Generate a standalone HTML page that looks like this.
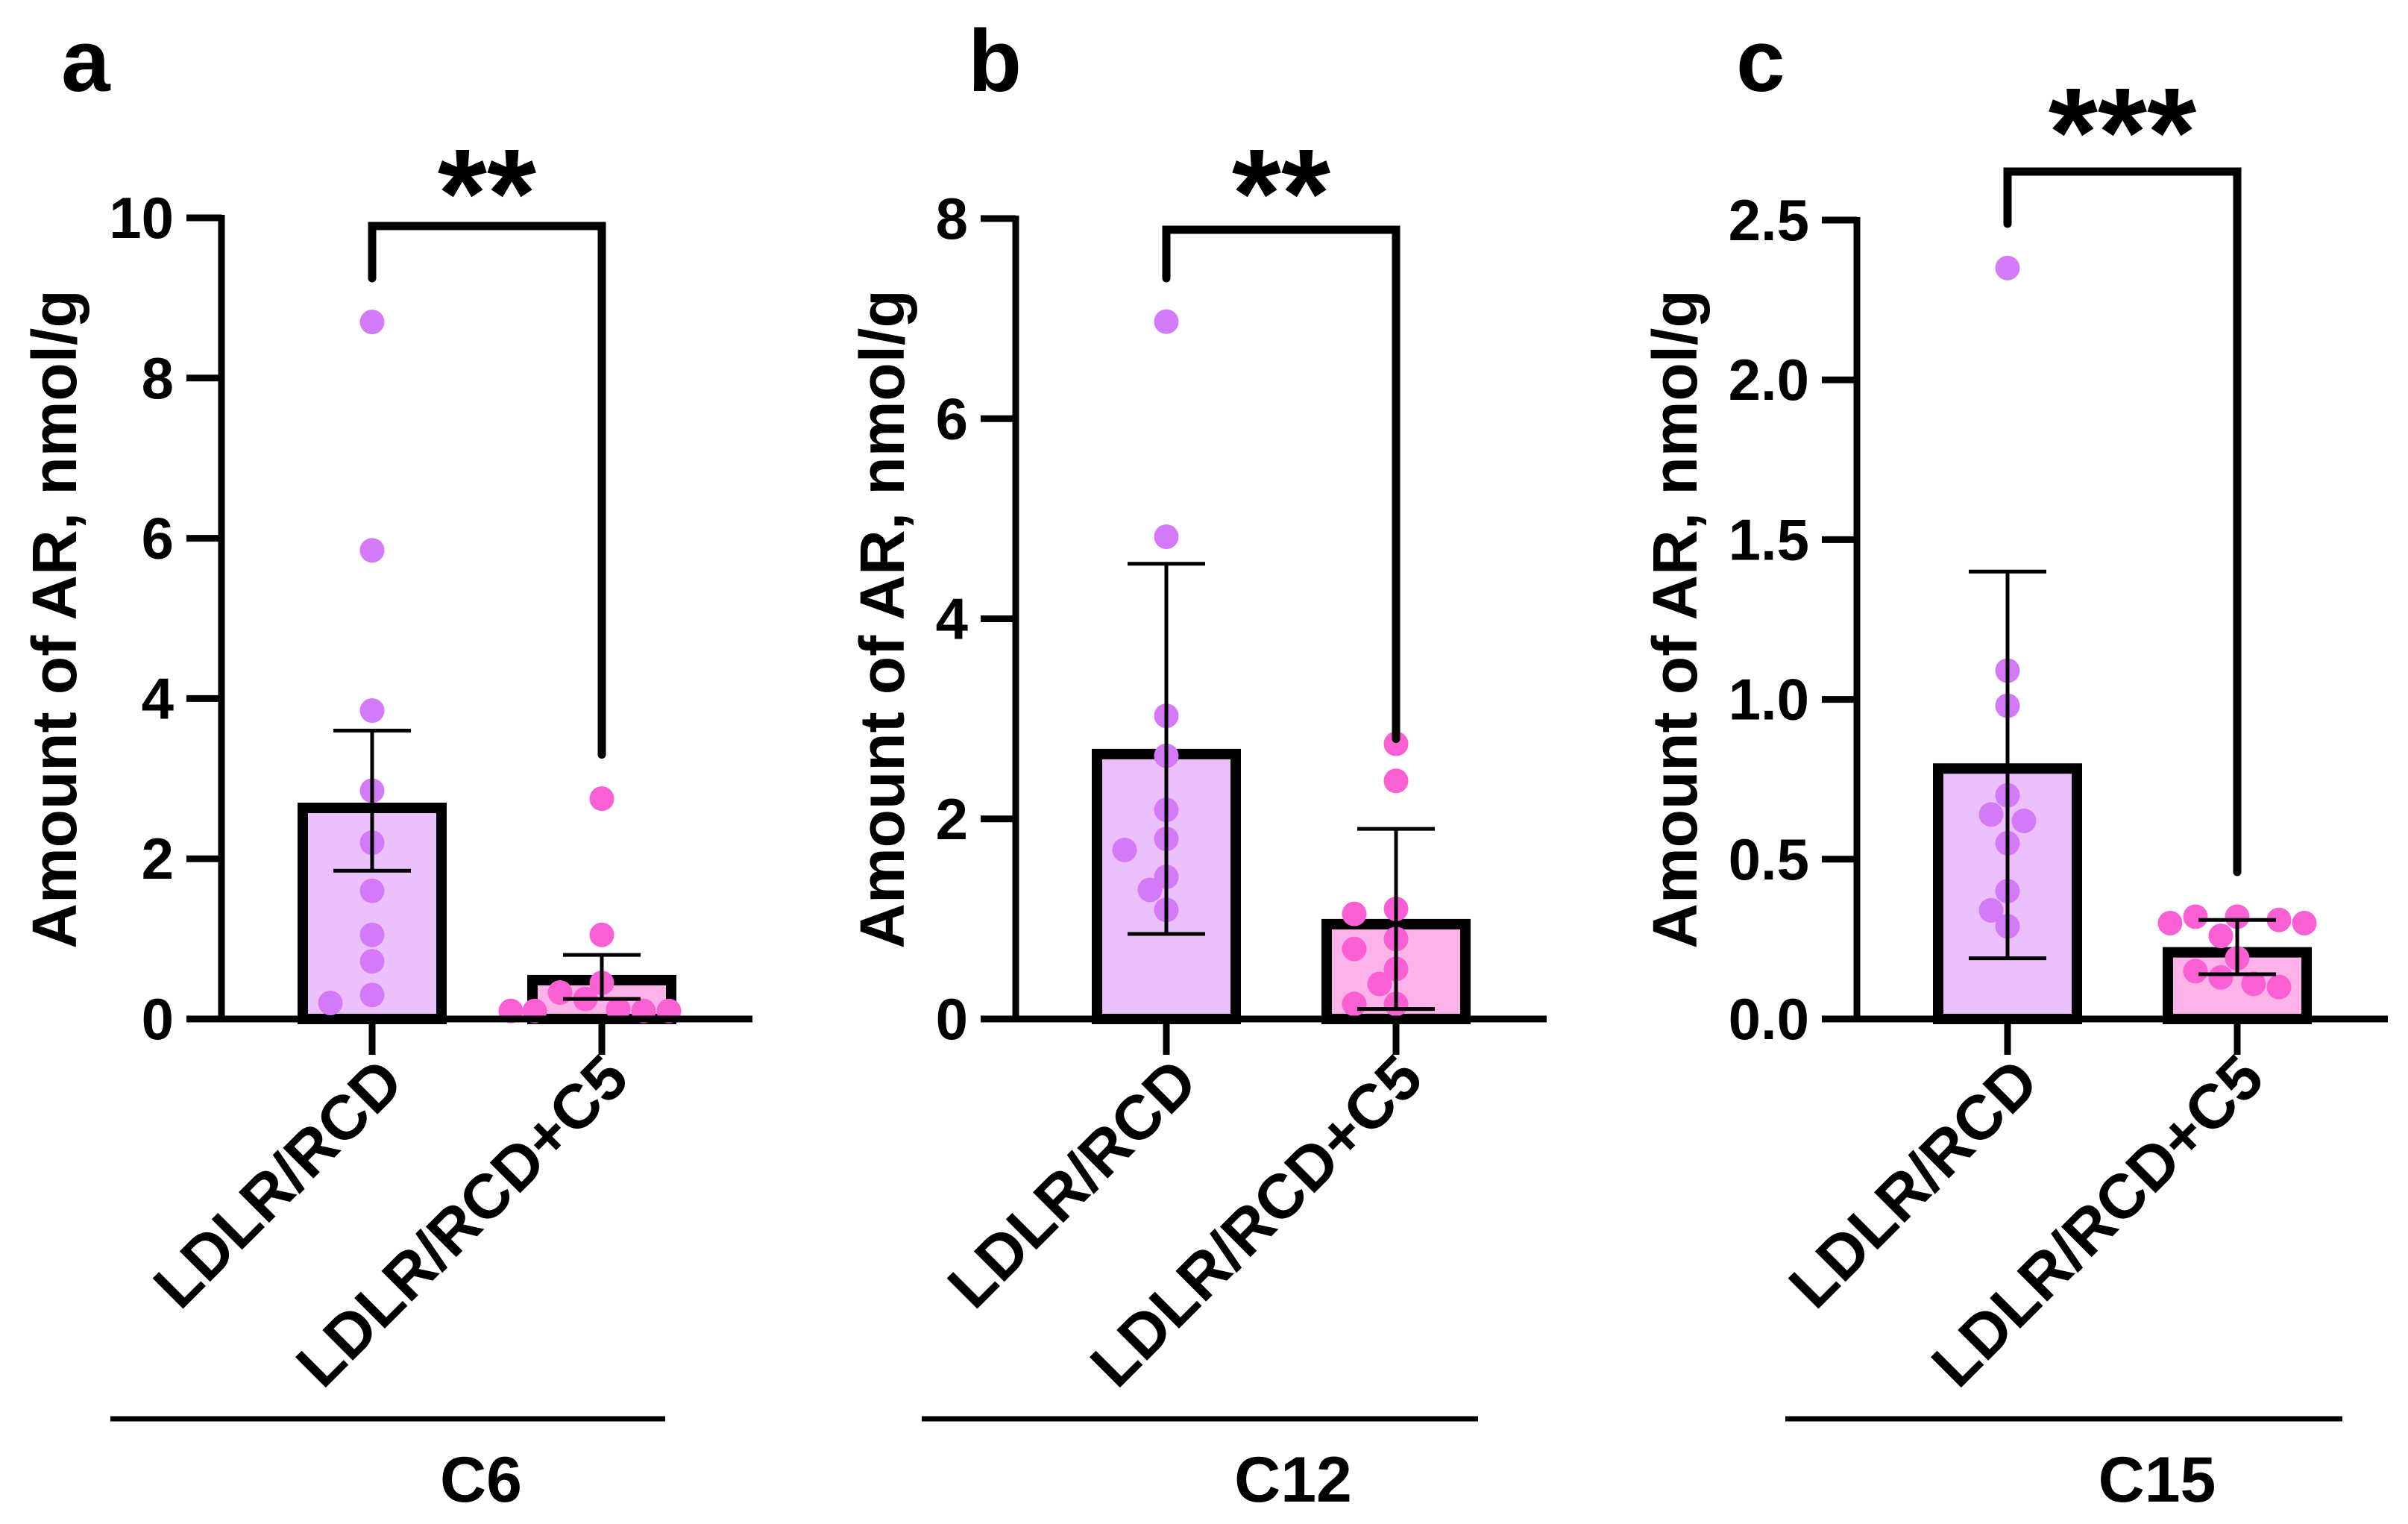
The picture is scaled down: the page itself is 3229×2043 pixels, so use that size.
<!DOCTYPE html>
<html><head><meta charset="utf-8"><style>
html,body{margin:0;padding:0;background:#fff}
svg{display:block}
text{font-family:"Liberation Sans",Arial,sans-serif;font-weight:bold;fill:#000}
</style></head><body>
<svg id="chart" width="3229" height="2043" viewBox="0 0 3229 2043" xmlns="http://www.w3.org/2000/svg"></svg>
<script>
// ---- data ----
const categories = ["LDLR/RCD", "LDLR/RCD+C5"];
const panelLetters = ["a", "b", "c"];
const compounds = ["C6", "C12", "C15"];
const sigLabels = ["**", "**", "***"];
const yMaxes = [10, 8, 2.5];
const yTicksA = ["0", "2", "4", "6", "8", "10"];
const yTicksB = ["0", "2", "4", "6", "8"];
const yTicksC = ["0.0", "0.5", "1.0", "1.5", "2.0", "2.5"];
// means
const meansA = [2.7, 0.55];
const meansB = [2.7, 1.0];
const meansC = [0.8, 0.225];
// error bar [low, high]
const errA = [[1.85, 3.6], [0.25, 0.8]];
const errB = [[0.85, 4.55], [0.1, 1.9]];
const errC = [[0.19, 1.4], [0.14, 0.31]];
// individual points
const ptsA1 = [8.7, 5.85, 3.85, 2.85, 2.2, 1.6, 1.05, 0.72, 0.3, 0.2];
const ptsA2 = [2.75, 1.05, 0.45, 0.33, 0.25, 0.12, 0.1, 0.1, 0.1, 0.1];
const ptsB1 = [6.97, 4.82, 3.03, 2.63, 2.09, 1.8, 1.69, 1.42, 1.29, 1.09];
const ptsB2 = [2.75, 2.38, 1.1, 1.05, 0.8, 0.7, 0.5, 0.35, 0.15, 0.15];
const ptsC1 = [2.35, 1.09, 0.98, 0.70, 0.64, 0.62, 0.55, 0.40, 0.34, 0.29];
const ptsC2 = [0.32, 0.32, 0.31, 0.30, 0.30, 0.26, 0.19, 0.15, 0.13, 0.11, 0.10];
// significance bracket right-leg end values
const bracketEnd = [3.3, 2.8, 0.46];

// ---- layout ----
const svg = document.getElementById('chart');
const NS = 'http://www.w3.org/2000/svg';
function mk(tag, attrs, parent) {
  const e = document.createElementNS(NS, tag);
  for (const k in attrs) e.setAttribute(k, attrs[k]);
  (parent || svg).appendChild(e);
  return e;
}
const Y0 = 1366;
const panels = [
  {axisX: 297, ticks: yTicksA, means: meansA, err: errA, pts: [ptsA1, ptsA2], topY: 292, titleOff: 225, brTop: 303, brLeft: 373, letterX: 82, starY: 258, lineX: [148, 892]},
  {axisX: 1362, ticks: yTicksB, means: meansB, err: errB, pts: [ptsB1, ptsB2], topY: 293, titleOff: 180, brTop: 308, brLeft: 373, letterX: 1298, starY: 258, lineX: [1236, 1982]},
  {axisX: 2490, ticks: yTicksC, means: meansC, err: errC, pts: [ptsC1, ptsC2], topY: 295, titleOff: 245, brTop: 230, brLeft: 300, letterX: 2328, starY: 176, lineX: [2394, 3141]}
];
const fills = ['#ecc0fc', '#fdb3e8'];
const dotCols = ['#d479f8', '#fb5fd4'];
const R = 16.5;

panels.forEach((p, pi) => {
  const g = mk('g', {});
  
  
  const ymax = yMaxes[pi];
  const y = v => Y0 - (Y0 - p.topY) * v / ymax;
  const cx = i => p.axisX + 202 + i * 308;

  const lt = mk('text', {x: p.letterX, y: 122, 'font-size': 118}, g);
  lt.textContent = panelLetters[pi];
  
  

  // bars
  p.means.forEach((m, i) => {
    const top = y(m);
    const b = mk('rect', {x: cx(i) - 93, y: top + 7, width: 186, height: Y0 - top - 7, fill: fills[i], stroke: '#000', 'stroke-width': 14}, g);
    
    
  });
  // dots (simple beeswarm)
  p.pts.forEach((arr, i) => {
    const placed = [];
    arr.forEach(v => {
      const py = y(v);
      let off = 0;
      const cands = [0, -22, 22, -56, 56, -90, 90, -122, 122];
      for (const c of cands) {
        if (placed.every(q => Math.hypot(q[0] - c, q[1] - py) >= 28)) { off = c; break; }
      }
      placed.push([off, py]);
      const d = mk('circle', {cx: cx(i) + off, cy: py, r: R, fill: dotCols[i]}, g);
      
      
    });
  });
  // error bars
  p.err.forEach((e, i) => {
    const eg = mk('g', {stroke: '#000', 'stroke-width': 5}, g);
    
    
    mk('line', {x1: cx(i), x2: cx(i), y1: y(e[0]), y2: y(e[1])}, eg);
    mk('line', {x1: cx(i) - 52, x2: cx(i) + 52, y1: y(e[0]), y2: y(e[0])}, eg);
    mk('line', {x1: cx(i) - 52, x2: cx(i) + 52, y1: y(e[1]), y2: y(e[1])}, eg);
  });
  // axes
  const ax = mk('g', {stroke: '#000', 'stroke-width': 9, fill: 'none'}, g);
  
  
  mk('line', {x1: p.axisX, x2: p.axisX, y1: p.topY - 4, y2: Y0 + 4}, ax);
  mk('line', {x1: p.axisX - 47, x2: p.axisX + 712, y1: Y0, y2: Y0}, ax);
  p.ticks.forEach((t, k) => {
    const v = ymax * k / (p.ticks.length - 1);
    const ty = y(v);
    mk('line', {x1: p.axisX - 47, x2: p.axisX, y1: ty, y2: ty}, ax);
    const tl = mk('text', {x: p.axisX - 64, y: ty + 27, 'font-size': 78, 'text-anchor': 'end'}, g);
    tl.textContent = t;
    
    
  });
  [0, 1].forEach(i => mk('line', {x1: cx(i), x2: cx(i), y1: Y0, y2: Y0 + 48}, ax));
  // y title
  const tx = p.axisX - p.titleOff;
  const yt = mk('text', {x: tx, y: 830, 'font-size': 84, 'text-anchor': 'middle', transform: `rotate(-90 ${tx} 830)`, dy: 30}, g);
  yt.textContent = 'Amount of AR, nmol/g';
  
  
  // category labels
  categories.forEach((c, i) => {
    const axp = cx(i) + (i ? 40 : 46), ayp = i ? 1450 : 1455;
    const cl = mk('text', {x: axp, y: ayp, 'font-size': 84, 'text-anchor': 'end', transform: `rotate(-45 ${axp} ${ayp})`}, g);
    cl.textContent = c;
    
    
  });
  // group line + compound label
  const gl = mk('line', {x1: p.lineX[0], x2: p.lineX[1], y1: 1902, y2: 1902, stroke: '#000', 'stroke-width': 7}, g);
  
  
  const cpx = (p.lineX[0] + p.lineX[1]) / 2 + 125;
  const cp = mk('text', {x: cpx, y: 2013, 'font-size': 86, 'text-anchor': 'middle'}, g);
  cp.textContent = compounds[pi];
  
  
  // significance bracket
  const br = mk('path', {d: `M${cx(0)} ${p.brLeft} V${p.brTop} H${cx(1)} V${y(bracketEnd[pi])}`, stroke: '#000', 'stroke-width': 11, fill: 'none', 'stroke-linecap': 'round', 'stroke-linejoin': 'miter'}, g);
  
  
  const st = mk('text', {x: (cx(0) + cx(1)) / 2, y: p.starY + 60, 'font-size': 170, 'text-anchor': 'middle'}, g);
  st.textContent = sigLabels[pi];
  
  
});
</script>
</body></html>
